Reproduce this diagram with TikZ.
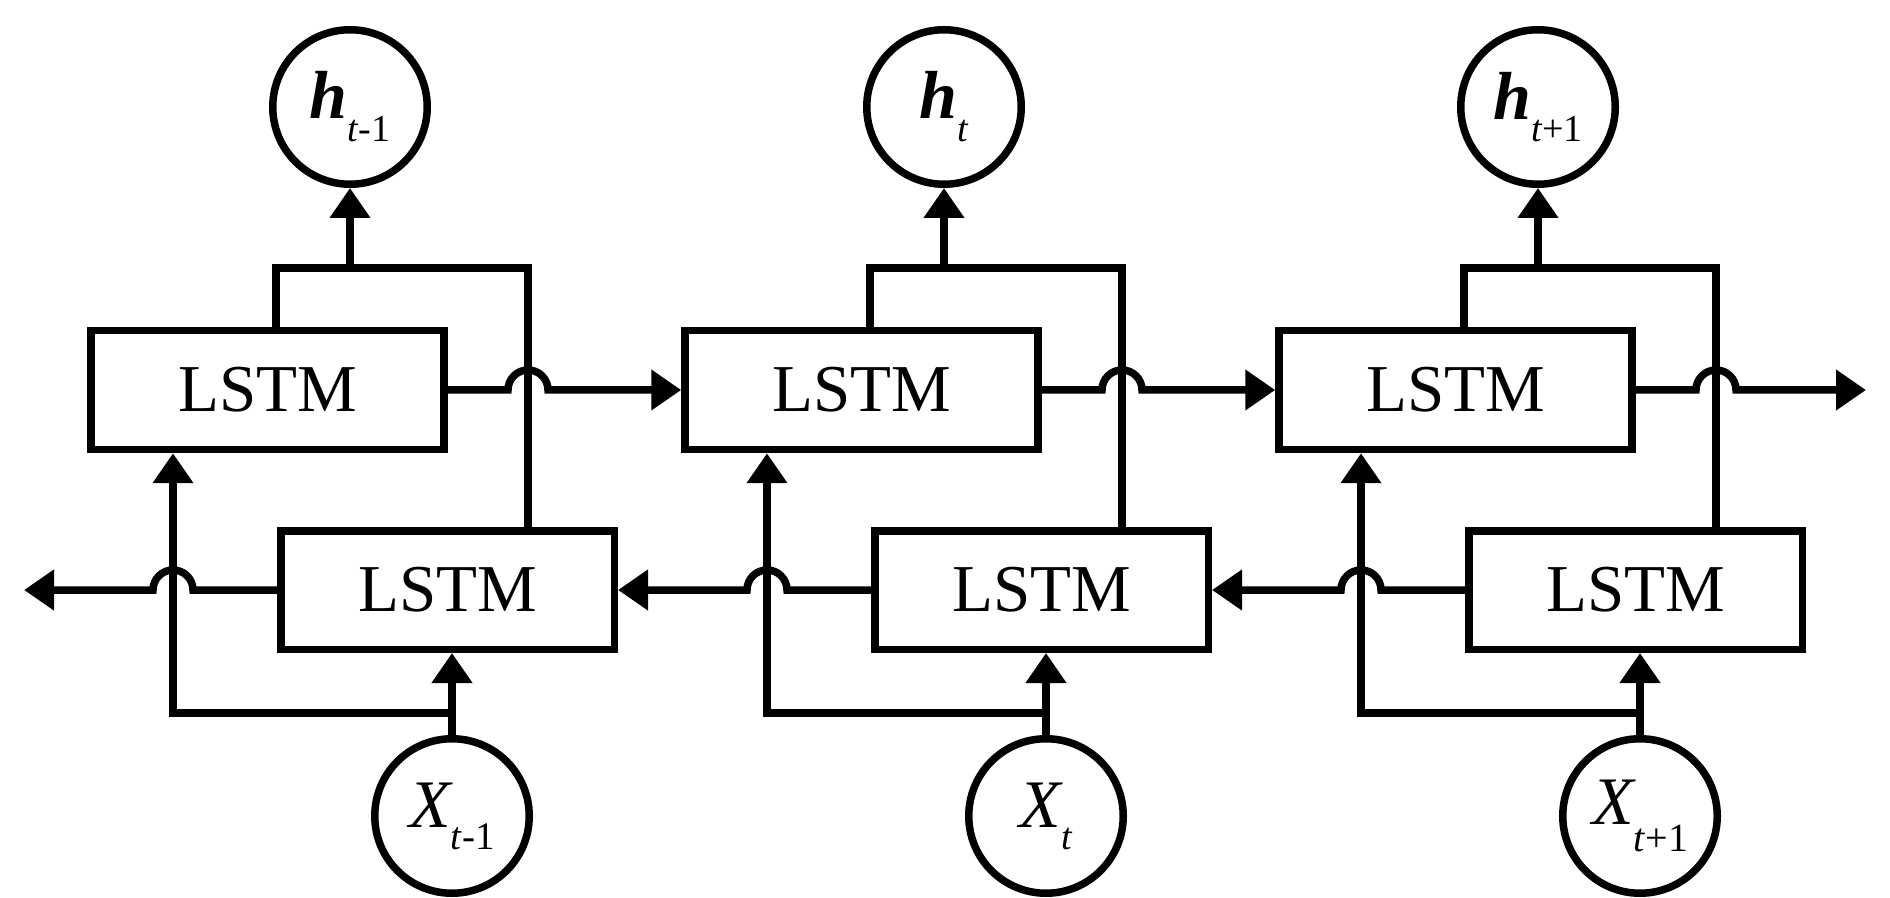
\documentclass[tikz,border=0pt]{standalone}
\usepackage{fontspec}
\setmainfont{Liberation Serif}
\usetikzlibrary{arrows.meta,calc}
% \lbl{main}{subscript}{subscript size}{subscript drop}
\newcommand{\lbl}[4]{{\fontsize{34pt}{34pt}\selectfont #1}\raisebox{-#4}{\fontsize{#3}{#3}\selectfont #2}}
\tikzset{
  lstmtop/.style={draw, rectangle, minimum width=176.5pt, minimum height=59.5pt, inner sep=0pt,
    font=\fontsize{33.5pt}{33.5pt}\selectfont},
  lstmbot/.style={draw, rectangle, minimum width=166.75pt, minimum height=59.25pt, inner sep=0pt,
    font=\fontsize{33.5pt}{33.5pt}\selectfont},
  state/.style={draw, circle, minimum size=77.25pt, inner sep=0pt},
  arr/.style={-{Triangle[length=15pt,width=19.5pt]}},
}
\begin{document}
\begin{tikzpicture}[x=0.5pt, y=-0.5pt, line width=3.75pt]
\useasboundingbox (0,0) rectangle (1890,898);
% units
\node[lstmtop] (T1) at (267.5,390) {LSTM};
\node[lstmtop] (T2) at (861.5,390) {LSTM};
\node[lstmtop] (T3) at (1455.5,390) {LSTM};
\node[lstmbot] (B1) at (447.5,590) {LSTM};
\node[lstmbot] (B2) at (1041.5,590) {LSTM};
\node[lstmbot] (B3) at (1635.5,590) {LSTM};
\node[state] (H1) at (350,107) {\lbl{\bfseries\itshape h}{\itshape t\/\upshape -1}{19pt}{11.5pt}};
\node[state] (H2) at (944,107) {\lbl{\bfseries\itshape h}{\itshape t}{19pt}{11.5pt}};
\node[state] (H3) at (1538,107) {\lbl{\bfseries\itshape h}{\itshape t\/\upshape +1}{19pt}{11pt}};
\node[state] (X1) at (452,816) {\lbl{\itshape X}{\itshape t\/\upshape -1}{19.5pt}{11pt}};
\node[state] (X2) at (1046,816) {\lbl{\itshape X}{\itshape t}{19pt}{11pt}};
\node[state] (X3) at (1640,816) {\raisebox{-3pt}{\lbl{\itshape X}{\itshape t\/\upshape +1}{20pt}{13.5pt}}};
% free ends
\coordinate (fend) at (1866,390);
\coordinate (bend) at (24,590);
\foreach \i/\dx in {1/0,2/594,3/1188}{
  \coordinate (bl\i) at (276+\dx,268);
  \coordinate (br\i) at (528+\dx,268);
  \coordinate (jf\i) at (528+\dx,390);
  \coordinate (jb\i) at (173+\dx,590);
  \coordinate (jx\i) at (173+\dx,713);
  % bracket to output
  \draw (T\i.north -| bl\i) -- (bl\i) -- (br\i) -- (br\i |- B\i.north);
  \draw[arr] (H\i.south |- bl\i) -- (H\i.south);
  % input
  \draw[arr] (X\i.north) -- (X\i.north |- B\i.south);
  \draw[arr] (X\i.north |- jx\i) -- (jx\i) -- (jx\i |- T\i.south);
}
% forward connections with jumps
\draw[arr] (T1.east) -- ($(jf1)+(-20,0)$) arc[start angle=180,end angle=0,radius=10pt] -- (T2.west);
\draw[arr] (T2.east) -- ($(jf2)+(-20,0)$) arc[start angle=180,end angle=0,radius=10pt] -- (T3.west);
\draw[arr] (T3.east) -- ($(jf3)+(-20,0)$) arc[start angle=180,end angle=0,radius=10pt] -- (fend);
% backward connections with jumps
\draw[arr] (B3.west) -- ($(jb3)+(20,0)$) arc[start angle=0,end angle=180,radius=10pt] -- (B2.east);
\draw[arr] (B2.west) -- ($(jb2)+(20,0)$) arc[start angle=0,end angle=180,radius=10pt] -- (B1.east);
\draw[arr] (B1.west) -- ($(jb1)+(20,0)$) arc[start angle=0,end angle=180,radius=10pt] -- (bend);
\end{tikzpicture}
\end{document}
